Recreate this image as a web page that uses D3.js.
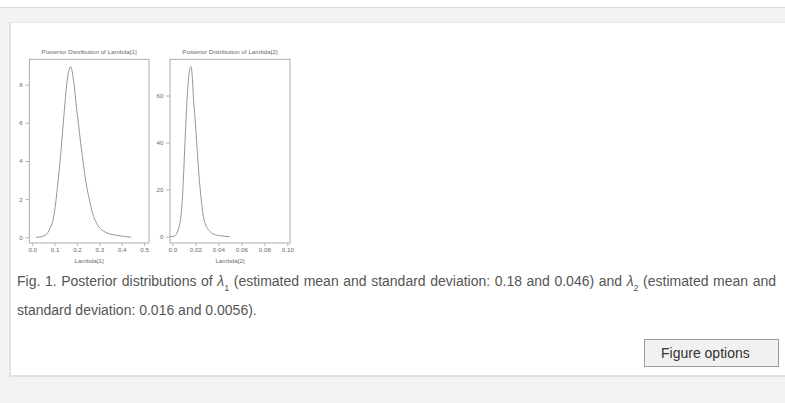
<!DOCTYPE html>
<html>
<head>
<meta charset="utf-8">
<script src="https://cdn.jsdelivr.net/npm/d3@7"></script>
<style>
  body { margin: 0; background: #fff; font-family: "Liberation Sans", Arial, sans-serif; overflow: hidden; }
  .band { position: absolute; left: 0; top: 7px; width: 785px; height: 396px; background: #f3f3f3; border-top: 1px solid #dcdcdc; }
  .panel { position: absolute; left: 9px; top: 22px; width: 800px; height: 352px; background: #fff;
           border-left: 2px solid #e2e2e2; border-top: 1px solid #e8e8e8; border-bottom: 2px solid #e0e0e0; }
  #chart { position: absolute; left: 0; top: 0; }
  .caption { position: absolute; left: 17px; top: 267px; width: 759px; font-size: 14px; line-height: 29px;
             color: #555; text-align: justify; }
  .caption i { font-style: italic; }
  .caption sub { font-size: 9px; line-height: 0; vertical-align: -5px; }
  .btn { position: absolute; left: 644px; top: 339px; height: 26px; background: #f1f1f1;
         border: 1px solid #9c9c9c; font-size: 14px; color: #333; line-height: 26px; padding-left: 16px; width: 117px; }
</style>
</head>
<body>
<div class="band"></div>
<div class="panel"></div>
<svg id="chart" width="785" height="270"></svg>
<div class="caption">Fig. 1. Posterior distributions of <i>λ</i><sub>1</sub> (estimated mean and standard deviation: 0.18 and 0.046) and <i>λ</i><sub>2</sub> (estimated mean and standard deviation: 0.016 and 0.0056).</div>
<div class="btn">Figure options</div>
<script>
// posterior density of lambda[1]
var lambda1X = [0.017, 0.040, 0.057, 0.070, 0.079, 0.094, 0.105, 0.115, 0.124, 0.132, 0.139, 0.147, 0.154, 0.163, 0.172,
                0.180, 0.187, 0.196, 0.206, 0.217, 0.228, 0.240, 0.255, 0.270, 0.288, 0.310, 0.330, 0.348, 0.380, 0.407, 0.442];
var lambda1Density = [0.0, 0.03, 0.10, 0.25, 0.45, 0.95, 1.8, 2.9, 3.9, 5.0, 6.0, 7.1, 8.0, 8.7, 8.95,
                      8.6, 8.0, 7.0, 6.0, 4.9, 3.9, 2.9, 2.0, 1.25, 0.73, 0.4, 0.25, 0.17, 0.1, 0.05, 0.0];

// posterior density of lambda[2]
var lambda2X = [-0.002, 0.0015, 0.0032, 0.0048, 0.006, 0.0072, 0.0081, 0.0096, 0.011, 0.013, 0.0145, 0.0162, 0.0175,
                0.0183, 0.0198, 0.0212, 0.0226, 0.024, 0.0255, 0.027, 0.029, 0.0313, 0.034, 0.037, 0.042, 0.050];
var lambda2Density = [0.0, 0.2, 0.85, 2.5, 4.4, 7.5, 11.5, 24, 40, 59.5, 69, 72.3, 67,
                      59.5, 50, 40, 30, 21.4, 14, 8.6, 5, 3, 1.6, 0.85, 0.35, 0.0];

var xTicks1 = [0.0, 0.1, 0.2, 0.3, 0.4, 0.5],
    xTickLabels1 = ["0.0", "0.1", "0.2", "0.3", "0.4", "0.5"],
    yTicks1 = [0, 2, 4, 6, 8];
var xTicks2 = [0.0, 0.02, 0.04, 0.06, 0.08, 0.10],
    xTickLabels2 = ["0.0", "0.02", "0.04", "0.06", "0.08", "0.10"],
    yTicks2 = [0, 20, 40, 60];

var titles = ["Posterior Distribution of Lambda[1]", "Posterior Distribution of Lambda[2]"],
    xTitles = ["Lambda[1]", "Lambda[2]"];

var svg = d3.select("#chart");
var ink = "#6a6a6a";

function drawPanel(opt){
	var x = d3.scaleLinear().domain(opt.xDomain).range([opt.left, opt.right]),
	    y = d3.scaleLinear().domain(opt.yDomain).range([opt.bottom, opt.top]);
	var g = svg.append("g");

	g.append("rect")
		.attr("x", opt.left).attr("y", opt.top)
		.attr("width", opt.right - opt.left).attr("height", opt.bottom - opt.top)
		.attr("fill", "none").attr("stroke", "#999").attr("stroke-width", 0.8);

	var ya = g.append("g").attr("transform", "translate(" + opt.left + ",0)")
		.call(d3.axisLeft(y).tickValues(opt.yTicks).tickSize(4).tickPadding(2.5));
	var xa = g.append("g").attr("transform", "translate(0," + opt.bottom + ")")
		.call(d3.axisBottom(x).tickValues(opt.xTicks).tickSize(3).tickPadding(2)
			.tickFormat(function(d, i){ return opt.xLabels[i]; }));
	[ya, xa].forEach(function(a){
		a.select(".domain").remove();
		a.selectAll("line").attr("stroke", "#999").attr("stroke-width", 0.7);
		a.selectAll("text").attr("fill", ink).attr("font-size", 6.2)
			.attr("font-family", "'Liberation Sans', Arial, sans-serif");
	});

	g.append("text")
		.attr("x", (opt.left + opt.right) / 2).attr("y", opt.top - 5)
		.attr("text-anchor", "middle").attr("font-size", 6.2).attr("fill", ink)
		.text(opt.title);
	g.append("text")
		.attr("x", (opt.left + opt.right) / 2).attr("y", opt.bottom + 19.5)
		.attr("text-anchor", "middle").attr("font-size", 6.2).attr("fill", ink)
		.text(opt.xTitle);

	var line = d3.line()
		.x(function(d){ return x(d[0]); })
		.y(function(d){ return y(d[1]); })
		.curve(d3.curveMonotoneX);
	g.append("path")
		.datum(d3.zip(opt.xs, opt.ys))
		.attr("d", line)
		.attr("fill", "none").attr("stroke", "#8a8a8a").attr("stroke-width", 0.9);
}

drawPanel({left: 29.3, right: 149, top: 59.3, bottom: 243,
	xDomain: [-0.013, 0.522], yDomain: [-0.3, 9.33],
	xTicks: xTicks1, xLabels: xTickLabels1, yTicks: yTicks1,
	xs: lambda1X, ys: lambda1Density, title: titles[0], xTitle: xTitles[0]});

drawPanel({left: 170, right: 290, top: 59.3, bottom: 243,
	xDomain: [-0.002, 0.1023], yDomain: [-2.7, 75.4],
	xTicks: xTicks2, xLabels: xTickLabels2, yTicks: yTicks2,
	xs: lambda2X, ys: lambda2Density, title: titles[1], xTitle: xTitles[1]});
</script>
</body>
</html>
